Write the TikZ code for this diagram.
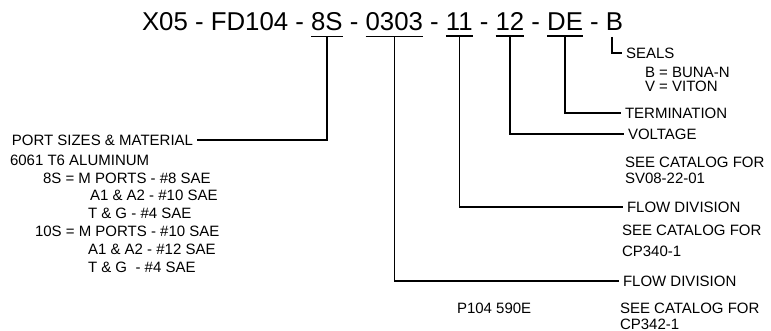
\documentclass[tikz,border=0pt]{standalone}
\usepackage{fontspec}
\setmainfont{Liberation Sans}
\usetikzlibrary{positioning}

\begin{document}
\begin{tikzpicture}[x=1pt, y=-1pt, line width=1.35pt]
        % Style definitions
        \tikzstyle{code} = [inner sep=0pt, outer sep=0pt, font=\fontsize{25.8}{30}\selectfont]
        \tikzstyle{lbl} = [inner xsep=4pt, inner ysep=0pt, outer sep=0pt, anchor=west, align=left, font=\fontsize{15}{17}\selectfont]

        \useasboundingbox (0,0) rectangle (771,331);

        % Model code
        \node [code, anchor=base west] (x05) at (142,31) {X05};
        \node [code, base right=7.15pt of x05] (d1) {-};
        \node [code, base right=7.15pt of d1] (fd) {FD104};
        \node [code, base right=7.15pt of fd] (d2) {-};
        \node [code, base right=7.15pt of d2] (s8) {8S};
        \node [code, base right=7.15pt of s8] (d3) {-};
        \node [code, base right=7.15pt of d3] (flow) {0303};
        \node [code, base right=7.15pt of flow] (d4) {-};
        \node [code, base right=7.15pt of d4] (div) {11};
        \node [code, base right=7.15pt of div] (d5) {-};
        \node [code, base right=7.15pt of d5] (volt) {12};
        \node [code, base right=7.15pt of volt] (d6) {-};
        \node [code, base right=7.15pt of d6] (term) {DE};
        \node [code, base right=7.15pt of term] (d7) {-};
        \node [code, base right=7.15pt of d7] (seal) {B};

        % Labels
        \node [lbl, anchor=east] (portsL) at (197,140) {PORT SIZES \& MATERIAL};
        \node [lbl, font=\fontsize{15}{17.8}\selectfont] (alumL) at (6,213.5) {6061 T6 ALUMINUM\\
            \hspace*{33pt}8S = M PORTS - \#8 SAE\\
            \hspace*{80pt}A1 \& A2 - \#10 SAE\\
            \hspace*{78pt}T \& G - \#4 SAE\\
            \hspace*{25pt}10S = M PORTS - \#10 SAE\\
            \hspace*{78pt}A1 \& A2 - \#12 SAE\\
            \hspace*{78pt}T \& G\ \ - \#4 SAE};
        \node [lbl] (sealsL) at (622,53) {SEALS};
        \node [lbl] (sealsT) at (641,79) {B = BUNA-N\\[-3pt]V = VITON};
        \node [lbl] (termL) at (621,113) {TERMINATION};
        \node [lbl] (voltL) at (624,134) {VOLTAGE};
        \node [lbl] (cat1) at (621,170) {SEE CATALOG FOR\\[-1pt]SV08-22-01};
        \node [lbl] (divL) at (623,207) {FLOW DIVISION};
        \node [lbl] (cat2) at (618,240.5) {SEE CATALOG FOR\\[4pt]CP340-1};
        \node [lbl] (flowL) at (619,281) {FLOW DIVISION};
        \node [lbl] (cat3) at (616,316) {SEE CATALOG FOR\\[-1pt]CP342-1};
        \node [lbl] (partno) at (453,308) {P104 590E};

        % Underlines
        \foreach \n in {s8, flow, div, volt, term}
            \draw ([yshift=-5pt]\n.south west) -- ([yshift=-5pt]\n.south east);

        % Leaders
        \draw ([yshift=-5pt]s8.south) |- (portsL.east);
        \draw ([yshift=-5pt]flow.south) |- (flowL.west);
        \draw ([yshift=-5pt]div.south) |- (divL.west);
        \draw ([yshift=-5pt]volt.south) |- (voltL.west);
        \draw ([yshift=-5pt]term.south) |- (termL.west);
        \draw ([xshift=6pt, yshift=-6pt]seal.south west) |- (sealsL.west);
\end{tikzpicture}
\end{document}
